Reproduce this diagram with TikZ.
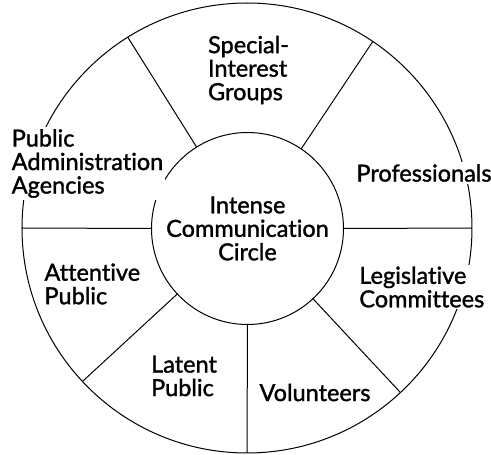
\documentclass[tikz,border=0pt]{standalone}
\usepackage{fontspec}
\setmainfont{Lato}[Ligatures=NoCommon,FakeBold=1.4]
\usepackage{tikz}

\begin{document}
\begin{tikzpicture}[
    x=1pt,y=1pt,
    ring/.style={draw=black,circle,line width=1pt,outer sep=0pt,inner sep=0pt},
    spoke/.style={draw=black,line width=1pt},
    lbl/.style={fill=white,inner sep=2pt,align=left,font=\fontsize{23.5}{23.5}\selectfont},
  ]
    \useasboundingbox (-247,-227) rectangle (244,228);
    \node[ring,minimum size=450] (rim) at (0,0) {};
    \node[ring,minimum size=192,align=center,font=\fontsize{23.5}{23.5}\selectfont] (hub) at (0.5,-0.5)
          {Intense\\Communication\\Circle};
    \foreach \a in {0,56,122,180,223.5,270,313}
      \draw[spoke] (hub.\a) -- (rim.\a);
    \node[lbl] (sig) at (1.5,158) {Special-\\Interest\\Groups};
    \node[lbl] (prof) at (177,55) {Professionals};
    \node[lbl] (pub) at (-159.5,64.5) {Public\\Administration\\Agencies};
    \node[lbl] (att) at (-154.7,-56) {Attentive\\Public};
    \node[lbl] (lat) at (-63,-148) {Latent\\Public};
    \node[lbl] (vol) at (68,-164.5) {Volunteers};
    \node[lbl] (leg) at (174.8,-59) {Legislative\\Committees};
\end{tikzpicture}
\end{document}
